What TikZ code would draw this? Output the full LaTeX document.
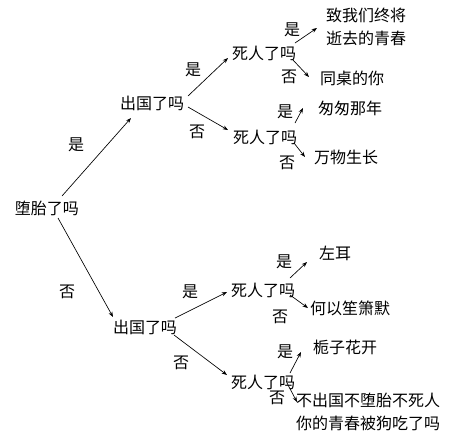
\documentclass[tikz,border=0pt]{standalone}
\usepackage{fontspec}
\setmainfont{Noto Sans CJK SC}
\usetikzlibrary{calc,arrows.meta}
\tikzstyle{q} = [inner sep=0pt, font=\fontsize{12}{17}\selectfont]
\tikzstyle{leaf} = [q, align=center]
\tikzstyle{yn} = [q]
\tikzstyle{arr} = [draw, -{Stealth[length=4pt,width=3pt]}, line width=0.5pt]

\begin{document}
\begin{tikzpicture}[x=0.75pt,y=-0.75pt]
    \useasboundingbox (0,0) rectangle (454,440);

    % questions
    \node (root) at (47,208) [q] {堕胎了吗};
    \path (root)+(105,-105) node (q1) [q] {出国了吗};
    \path (root)+(98,119) node (q2) [q] {出国了吗};

    \path (q1)+(112,-50) node (d1) [q] {死人了吗};
    \path (q1)+(113,34) node (d2) [q] {死人了吗};
    \path (q2)+(118,-37) node (d3) [q] {死人了吗};
    \path (q2)+(118,55) node (d4) [q] {死人了吗};

    % answers
    \path (d1)+(102,-26) node (l1) [leaf] {致我们终将\\逝去的青春};
    \path (d1)+(88,25) node (l2) [leaf] {同桌的你};
    \path (d2)+(85,-29) node (l3) [leaf] {匆匆那年};
    \path (d2)+(81,20) node (l4) [leaf] {万物生长};
    \path (d3)+(72,-37) node (l5) [leaf] {左耳};
    \path (d3)+(87,18) node (l6) [leaf] {何以笙箫默};
    \path (d4)+(82,-35) node (l7) [leaf] {栀子花开};
    \path (d4)+(105,30) node (l8) [leaf] {不出国不堕胎不死人\\你的青春被狗吃了吗};

    % yes / no labels
    \path (root)+(29,-63) node (y0) [yn] {是};
    \path (root)+(20,84) node (n0) [yn] {否};
    \path (q1)+(41,-33) node (y1) [yn] {是};
    \path (q1)+(45,29) node (n1) [yn] {否};
    \path (q2)+(45,-35) node (y2) [yn] {是};
    \path (q2)+(36,36) node (n2) [yn] {否};
    \path (d1)+(28,-23) node (y3) [yn] {是};
    \path (d1)+(25,24) node (n3) [yn] {否};
    \path (d2)+(20,-25) node (y4) [yn] {是};
    \path (d2)+(22,26) node (n4) [yn] {否};
    \path (d3)+(21,-28) node (y5) [yn] {是};
    \path (d3)+(17,27) node (n5) [yn] {否};
    \path (d4)+(22,-30) node (y6) [yn] {是};
    \path (d4)+(14,16) node (n6) [yn] {否};

    % arrows
    \path [arr] ($(root)+(15,-12)$) -- ($(q1)+(-21,15)$);
    \path [arr] ($(root)+(11,10)$) -- ($(q2)+(-32,-10)$);
    \path [arr] ($(q1)+(36,-7)$) -- ($(d1)+(-36,5)$);
    \path [arr] ($(q1)+(36,4)$) -- ($(d2)+(-37,-7)$);
    \path [arr] ($(q2)+(30,-9)$) -- ($(d3)+(-36,2)$);
    \path [arr] ($(q2)+(29,8)$) -- ($(d4)+(-36,-7)$);

    \path [arr] ($(d1)+(31,-10)$) -- ($(l1)+(-49,1)$);
    \path [arr] ($(d1)+(29,7)$) -- ($(l2)+(-43,-1)$);
    \path [arr] ($(d2)+(30,-14)$) -- ($(l3)+(-47,0)$);
    \path [arr] ($(d2)+(29,6)$) -- ($(l4)+(-41,0)$);
    \path [arr] ($(d3)+(27,-12)$) -- ($(l5)+(-28,9)$);
    \path [arr] ($(d3)+(27,5)$) -- ($(l6)+(-42,0)$);
    \path [arr] ($(d4)+(27,-9)$) -- ($(l7)+(-44,5)$);
    \path [arr] ($(d4)+(24,1)$) -- ($(l8)+(-71,-10)$);
\end{tikzpicture}
\end{document}
